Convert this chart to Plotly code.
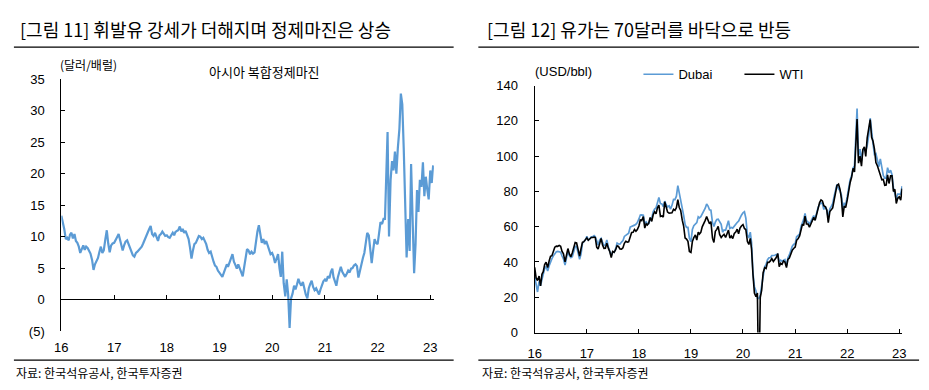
import plotly.graph_objects as go

# ---------------- data ----------------
# 10-day grid: 1st, 11th, 21st of every month, Jan 2016 - Jan 2023
dates = [f"{y}-{m:02d}-{d:02d}" for y in range(2016, 2023) for m in range(1, 13) for d in (1, 11, 21)]
dates += ["2023-01-01", "2023-01-11", "2023-01-21"]

# Asia complex refining margin (USD/bbl)
margin_2016 = [13.3, 12.4, 11.2, 9.6, 9.8, 9.4, 10.3, 10.6, 9.7, 10.4, 9.3, 9.0, 8.4, 7.4, 8.1, 8.6, 7.9, 8.4,
               8.2, 7.8, 7.3, 6.3, 4.7, 5.6, 6.1, 6.6, 7.6, 8.4, 7.4, 7.8, 9.6, 11.0, 8.9, 7.5, 8.6, 8.9]
margin_2017 = [9.0, 9.6, 9.9, 10.4, 9.6, 8.6, 7.8, 8.6, 9.2, 9.4, 8.8, 8.3, 7.6, 7.0, 6.8, 7.4, 7.6, 7.9,
               8.2, 8.4, 8.9, 9.6, 10.2, 10.6, 11.2, 11.7, 10.4, 10.1, 10.6, 9.8, 9.3, 10.2, 10.4, 10.8, 10.5, 10.1]
margin_2018 = [10.2, 9.9, 9.8, 10.3, 10.6, 10.2, 10.7, 10.9, 11.0, 11.6, 10.8, 11.2, 10.6, 10.9, 10.4, 9.6, 8.2, 6.5,
               7.8, 8.8, 9.0, 9.6, 10.1, 10.0, 9.6, 9.8, 9.3, 8.8, 7.9, 7.4, 7.6, 6.6, 6.0, 5.4, 5.2, 4.6]
margin_2019 = [4.2, 3.8, 3.6, 4.3, 5.0, 5.6, 5.2, 6.0, 6.5, 7.2, 6.0, 5.5, 4.9, 5.6, 4.8, 4.3, 3.7, 5.0,
               6.8, 8.0, 7.8, 7.2, 7.6, 7.3, 7.5, 9.5, 10.8, 11.8, 10.2, 9.0, 9.6, 8.8, 9.3, 8.6, 8.0, 7.2]
margin_2020 = [7.4, 6.8, 5.8, 6.4, 7.2, 5.0, 3.6, 7.6, 2.6, 0.5, 3.2, 0.8, -4.5, 0.2, 0.9, 2.2, 1.6, 2.4,
               3.3, 2.6, 2.2, 2.8, 1.5, 0.8, 0.2, 1.8, 2.5, 3.0, 2.0, 1.5, 1.8, 1.2, 0.8, 1.6, 2.2, 2.9]
margin_2021 = [3.2, 2.9, 3.7, 3.4, 4.4, 4.9, 3.6, 2.8, 2.2, 3.6, 4.3, 5.2, 4.4, 4.0, 3.6, 4.1, 4.6, 4.3,
               4.9, 5.0, 5.4, 5.6, 5.3, 3.5, 4.8, 6.0, 6.6, 7.4, 8.8, 10.6, 10.2, 8.0, 5.8, 7.8, 9.6, 9.0]
margin_2022 = [8.8, 10.5, 12.3, 12.0, 12.8, 12.8, 18.0, 26.6, 10.0, 19.0, 22.0, 20.5, 23.5, 20.0, 24.0, 27.1, 32.7, 31.0,
               24.0, 14.9, 6.7, 12.8, 7.7, 21.5, 13.9, 4.2, 8.8, 17.4, 13.9, 19.0, 17.9, 21.8, 16.4, 19.5, 17.5, 15.9]
margin_2023 = [20.5, 18.5, 21.3]

# Dubai crude (USD/bbl)
dubai_2016 = [31.8, 26.0, 23.0, 29.0, 26.5, 30.0, 33.0, 36.3, 37.5, 34.9, 37.7, 40.5, 41.9, 43.5, 45.0, 45.8, 46.0, 45.5,
              45.5, 43.4, 41.7, 38.3, 42.0, 46.2, 43.5, 42.5, 43.0, 46.5, 48.8, 48.7, 45.4, 41.6, 44.5, 50.6, 51.6, 52.4]
dubai_2017 = [54.6, 52.5, 53.1, 54.3, 54.3, 54.9, 54.3, 51.5, 49.7, 52.5, 53.4, 51.1, 49.3, 49.7, 52.5, 48.5, 46.3, 43.6,
              45.7, 45.5, 47.3, 50.7, 50.2, 50.1, 51.3, 52.1, 54.5, 55.1, 55.7, 56.3, 59.8, 60.1, 60.3, 60.9, 61.4, 62.3]
dubai_2018 = [64.4, 66.6, 66.7, 66.5, 61.5, 62.7, 61.8, 61.8, 64.5, 64.8, 68.4, 70.0, 70.6, 74.4, 76.6, 73.1, 72.9, 71.4,
              74.5, 72.4, 71.2, 71.8, 70.0, 72.1, 75.5, 75.4, 77.3, 83.3, 79.1, 77.1, 71.8, 66.3, 61.2, 59.6, 59.6, 53.5]
dubai_2019 = [51.5, 58.5, 60.6, 61.4, 62.3, 65.6, 65.0, 65.7, 67.0, 68.6, 70.5, 72.8, 71.7, 69.6, 69.4, 62.3, 60.1, 62.6,
              64.1, 64.3, 62.4, 61.3, 56.9, 58.2, 58.0, 61.3, 63.4, 59.0, 59.6, 59.2, 60.6, 61.9, 62.4, 63.1, 65.2, 66.5]
dubai_2020 = [67.9, 68.5, 64.8, 55.3, 53.6, 56.9, 51.0, 33.7, 26.0, 23.6, 19.6, 19.3, 21.3, 27.0, 32.0, 37.3, 38.6, 41.3,
              42.4, 42.4, 43.6, 43.6, 43.8, 44.2, 44.4, 40.0, 41.0, 40.4, 41.2, 41.4, 37.8, 42.4, 44.0, 47.2, 48.8, 50.0]
dubai_2021 = [50.4, 54.3, 54.8, 55.8, 60.2, 62.2, 64.0, 67.5, 63.4, 62.6, 61.6, 63.0, 64.9, 66.3, 64.5, 68.8, 71.0, 72.6,
              73.5, 73.0, 69.8, 71.5, 69.2, 65.0, 70.2, 71.5, 73.1, 77.2, 81.4, 84.0, 81.4, 80.5, 78.0, 70.5, 73.2, 72.5]
dubai_2022 = [77.0, 82.0, 86.5, 89.0, 93.2, 94.5, 108.0, 127.0, 100.0, 104.0, 97.5, 103.5, 104.0, 103.0, 106.0, 112.0, 121.5, 112.0,
              107.0, 101.0, 101.5, 97.5, 94.0, 98.5, 93.5, 89.0, 87.5, 87.5, 93.5, 90.5, 92.0, 89.5, 82.0, 79.0, 75.5, 78.5]
dubai_2023 = [78.5, 78.5, 83.0]

# WTI crude (USD/bbl)
wti_2016 = [37.0, 31.0, 29.5, 32.0, 26.5, 33.0, 34.5, 38.5, 39.9, 36.9, 40.4, 43.2, 43.6, 46.2, 48.4, 49.0, 48.9, 49.4,
            48.9, 46.0, 44.6, 40.1, 43.5, 47.6, 44.4, 43.0, 45.3, 48.8, 51.0, 50.8, 46.8, 43.4, 47.5, 51.1, 51.5, 52.5]
wti_2017 = [53.7, 52.3, 53.2, 53.9, 53.9, 54.1, 53.8, 48.4, 47.3, 50.2, 53.4, 49.6, 47.7, 47.8, 50.7, 47.7, 45.8, 42.5,
            46.0, 45.5, 46.8, 49.2, 48.8, 47.4, 47.3, 48.1, 50.6, 51.7, 51.3, 51.5, 54.3, 56.7, 56.8, 58.4, 57.4, 58.4]
wti_2018 = [60.4, 63.8, 63.4, 65.8, 59.2, 61.7, 61.0, 62.0, 65.2, 63.0, 66.8, 68.4, 67.3, 70.7, 72.2, 65.8, 66.1, 65.5,
            74.1, 70.4, 68.3, 67.7, 67.6, 67.9, 69.9, 69.3, 70.8, 75.3, 70.9, 69.2, 63.7, 60.2, 53.6, 53.0, 51.7, 46.0]
wti_2019 = [45.4, 51.6, 53.8, 55.3, 52.4, 56.9, 55.8, 56.8, 59.9, 61.6, 63.6, 65.7, 63.6, 61.7, 62.9, 53.5, 51.1, 57.4,
            58.5, 60.2, 55.6, 53.9, 54.9, 55.7, 53.9, 55.8, 58.1, 53.6, 54.7, 53.3, 56.2, 57.0, 58.6, 56.0, 59.2, 60.4]
wti_2020 = [61.2, 59.0, 58.3, 51.6, 49.9, 53.4, 47.2, 32.9, 22.4, 20.3, 22.4, -37.6, 19.8, 24.1, 33.9, 36.8, 36.3, 39.8,
            39.8, 40.6, 41.9, 40.3, 41.6, 42.5, 44.8, 37.3, 39.3, 38.7, 40.6, 40.0, 36.8, 41.5, 42.2, 44.5, 46.6, 47.7]
wti_2021 = [48.5, 52.3, 53.1, 54.8, 58.4, 61.5, 60.6, 66.0, 61.5, 61.5, 59.7, 61.4, 63.6, 65.3, 63.6, 67.7, 70.3, 73.7,
            75.2, 74.6, 71.9, 71.3, 69.3, 62.3, 68.6, 69.7, 70.6, 75.0, 80.5, 83.4, 84.1, 81.3, 76.1, 65.6, 71.7, 70.9]
wti_2022 = [75.2, 81.2, 84.9, 88.2, 93.1, 91.1, 103.4, 121.0, 96.0, 100.0, 94.3, 103.8, 105.2, 99.8, 110.3, 115.3, 120.7, 110.7,
            108.4, 104.0, 96.4, 94.4, 91.9, 90.2, 86.6, 86.8, 83.5, 83.6, 89.4, 84.5, 88.9, 88.9, 80.0, 81.2, 73.2, 76.1]
wti_2023 = [76.9, 75.1, 81.6]

margin = margin_2016 + margin_2017 + margin_2018 + margin_2019 + margin_2020 + margin_2021 + margin_2022 + margin_2023
dubai = dubai_2016 + dubai_2017 + dubai_2018 + dubai_2019 + dubai_2020 + dubai_2021 + dubai_2022 + dubai_2023
wti = wti_2016 + wti_2017 + wti_2018 + wti_2019 + wti_2020 + wti_2021 + wti_2022 + wti_2023

year_ticks = [f"{y}-01-01" for y in range(2016, 2024)]
year_labels = ["16", "17", "18", "19", "20", "21", "22", "23"]
margin_ticks = [-5, 0, 5, 10, 15, 20, 25, 30, 35]
margin_labels = ["(5)", "0", "5", "10", "15", "20", "25", "30", "35"]
oil_ticks = [0, 20, 40, 60, 80, 100, 120, 140]

# ---------------- figure ----------------
W, H = 929, 390
BLUE = "#5B9BD5"
KR = "Noto Sans CJK KR"
NUM = "Liberation Sans, Arial, sans-serif"


def px(v):
    return v / W


def py(v):
    return 1 - v / H


fig = go.Figure()
fig.add_trace(go.Scatter(x=dates, y=margin, mode="lines", xaxis="x", yaxis="y",
                         line=dict(color=BLUE, width=2.2), showlegend=False, name="아시아 복합정제마진"))
fig.add_trace(go.Scatter(x=dates[:1], y=margin[:1], mode="lines", xaxis="x3", yaxis="y",
                         line=dict(color="rgba(0,0,0,0)"), showlegend=False, hoverinfo="skip"))
fig.add_trace(go.Scatter(x=dates, y=dubai, mode="lines", xaxis="x2", yaxis="y2",
                         line=dict(color=BLUE, width=1.7), name="Dubai"))
fig.add_trace(go.Scatter(x=dates, y=wti, mode="lines", xaxis="x2", yaxis="y2",
                         line=dict(color="black", width=1.6), name="WTI"))

tickfont = dict(family=NUM, size=13, color="black")
left_range = ["2016-01-01", "2023-01-26"]
right_range = ["2016-01-01", "2023-01-22"]

fig.update_layout(
    width=W, height=H, autosize=False,
    margin=dict(l=0, r=0, t=0, b=0),
    paper_bgcolor="white", plot_bgcolor="white",
    font=dict(family=KR, color="black"),
    xaxis=dict(domain=[px(55), px(432)], anchor="y", type="date", range=left_range,
               tickmode="array", tickvals=year_ticks, ticktext=year_labels,
               showline=False, ticks="", showgrid=False, zeroline=False,
               tickfont=tickfont, ticklabelstandoff=7),
    xaxis3=dict(overlaying="x", anchor="free", position=py(304), type="date", range=left_range,
                tickmode="array", tickvals=year_ticks, showticklabels=False,
                showline=True, linecolor="black", linewidth=1, ticks="inside", ticklen=4,
                tickcolor="black", showgrid=False, zeroline=False),
    yaxis=dict(domain=[py(337), py(75)], anchor="x", range=[-5, 35],
               tickmode="array", tickvals=margin_ticks, ticktext=margin_labels,
               showline=True, linecolor="black", linewidth=1, ticks="inside", ticklen=4,
               tickcolor="black", showgrid=False, zeroline=False,
               tickfont=tickfont, ticklabelstandoff=13),
    xaxis2=dict(domain=[px(534), px(906)], anchor="y2", type="date", range=right_range,
                tickmode="array", tickvals=year_ticks, ticktext=year_labels,
                showline=True, linecolor="black", linewidth=1, ticks="inside", ticklen=4,
                tickcolor="black", showgrid=False, zeroline=False,
                tickfont=tickfont, ticklabelstandoff=9),
    yaxis2=dict(domain=[py(338.6), py(81.7)], anchor="x2", range=[0, 140],
                tickmode="array", tickvals=oil_ticks,
                showline=True, linecolor="black", linewidth=1, ticks="inside", ticklen=4,
                tickcolor="black", showgrid=False, zeroline=False,
                tickfont=tickfont, ticklabelstandoff=13),
    legend=dict(orientation="h", x=px(639), y=py(70), xanchor="left", yanchor="middle",
                bgcolor="rgba(0,0,0,0)", borderwidth=0,
                font=dict(family=NUM, size=13, color="black"),
                entrywidth=56, entrywidthmode="pixels", tracegroupgap=0),
    showlegend=True,
)

# section rules (title underline and footer line)
for x0, x1 in [(7, 452), (477, 923)]:
    for yy in (41.7, 367.3):
        fig.add_shape(type="line", xref="paper", yref="paper",
                      x0=px(x0), x1=px(x1), y0=py(yy), y1=py(yy),
                      line=dict(color="black", width=1.2))

texts = [
    ("[그림 11] 휘발유 강세가 더해지며 정제마진은 상승", 11, 23, 18),
    ("[그림 12] 유가는 70달러를 바닥으로 반등", 484, 23, 18),
    ("(달러/배럴)", 52, 60, 12),
    ("아시아 복합정제마진", 202, 67, 13),
    ("자료: 한국석유공사, 한국투자증권", 7, 380, 12),
    ("자료: 한국석유공사, 한국투자증권", 479, 380, 12),
]
for t, x, y, s in texts:
    fig.add_annotation(text=t, xref="paper", yref="paper", x=px(x), y=py(y),
                       xanchor="left", yanchor="middle", showarrow=False,
                       font=dict(family=KR, size=s, color="black"))
fig.add_annotation(text="(USD/bbl)", xref="paper", yref="paper", x=px(532), y=py(67),
                   xanchor="left", yanchor="middle", showarrow=False,
                   font=dict(family=NUM, size=13, color="black"))

fig.write_html("out.html", config={"displayModeBar": False},
               post_script="document.body.style.margin='0';document.body.style.overflow='hidden';")
